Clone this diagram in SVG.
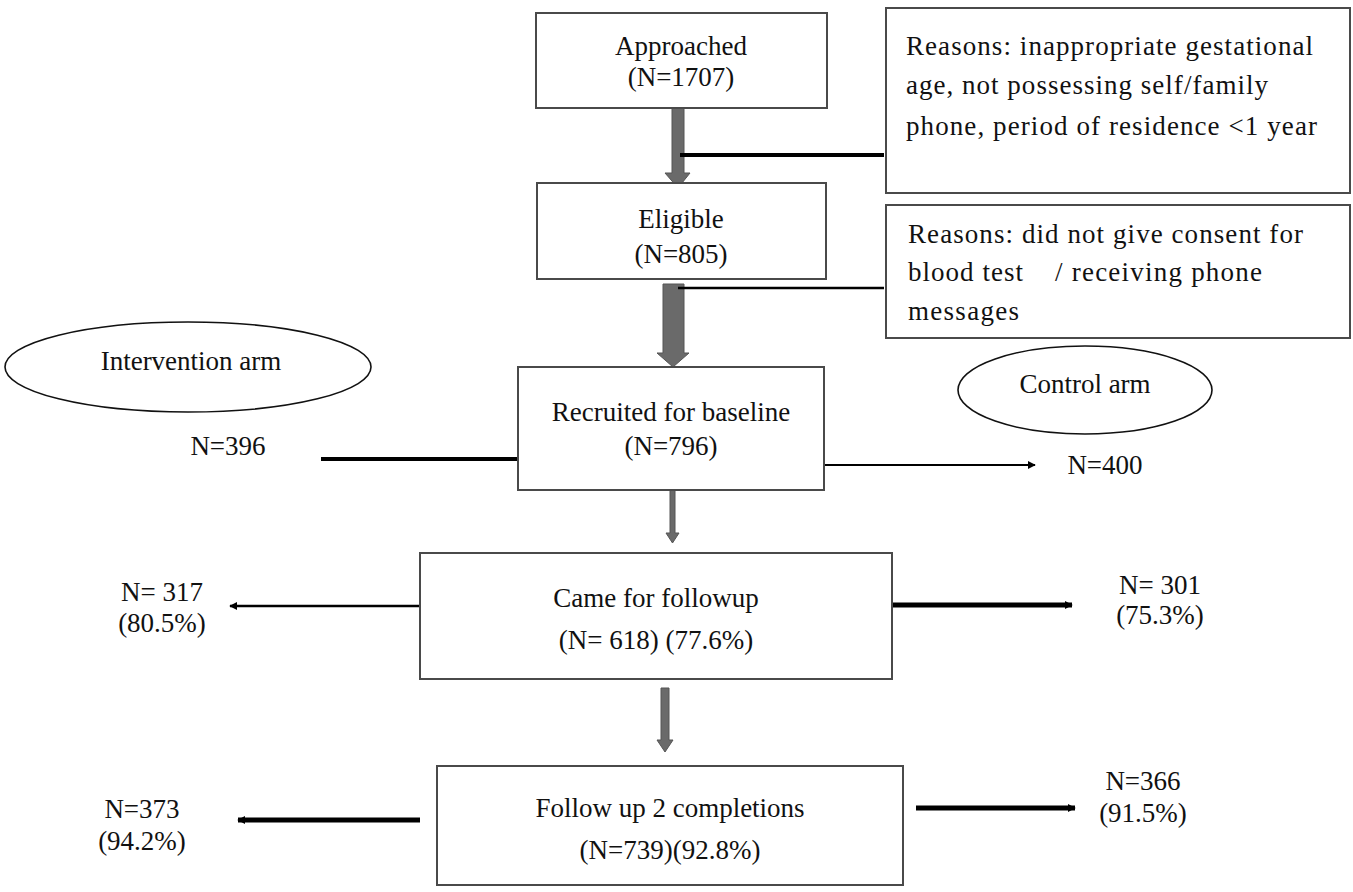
<svg xmlns="http://www.w3.org/2000/svg" width="1353" height="892" viewBox="0 0 1353 892">
<defs>
<style>
.box{fill:#fff;stroke:#4a4a4a;stroke-width:2}
.ell{fill:#fff;stroke:#111;stroke-width:1.6}
.t{font-family:"Liberation Serif","Times New Roman",serif;font-size:27px;fill:#111}
.tm{text-anchor:middle}
.ln{stroke:#000;fill:none}
.ga{fill:#6a6a6a;stroke:#555;stroke-width:1}
</style>
<marker id="ah" viewBox="0 0 10 10" refX="9" refY="5" markerWidth="8" markerHeight="8" markerUnits="userSpaceOnUse" orient="auto">
<path d="M0,0 L10,5 L0,10 z" fill="#000"/>
</marker>
</defs>
<rect width="1353" height="892" fill="#fff"/>

<g id="connectors">
<path class="ga" d="M672,108 H684 V173 H690 L678,188 L665,173 H672 Z"/>
<path class="ga" d="M663,284 H684 V353 H689 L673,367 L657,353 H663 Z"/>
<path class="ga" d="M670,490 H675 V533 H679 L672.5,543 L666,533 H670 Z"/>
<path class="ga" d="M661,688 H669 V740 H673 L665,752 L657,740 H661 Z"/>
<line class="ln" x1="680" y1="155" x2="884" y2="155" stroke-width="4"/>
<line class="ln" x1="678" y1="288" x2="884" y2="288" stroke-width="2.5"/>
<line class="ln" x1="519" y1="459" x2="321" y2="459" stroke-width="4"/>
<line class="ln" x1="824" y1="465" x2="1035" y2="465" stroke-width="2" marker-end="url(#ah)"/>
<line class="ln" x1="430" y1="606" x2="230" y2="606" stroke-width="2.5" marker-end="url(#ah)"/>
<line class="ln" x1="892" y1="605" x2="1072" y2="605" stroke-width="5" marker-end="url(#ah)"/>
<line class="ln" x1="420" y1="820" x2="238" y2="820" stroke-width="5" marker-end="url(#ah)"/>
<line class="ln" x1="916" y1="808" x2="1075" y2="808" stroke-width="5" marker-end="url(#ah)"/>
</g>

<g id="approached">
<rect class="box" x="536" y="13" width="291" height="95"/>
<text class="t tm" x="681" y="55">Approached</text>
<text class="t tm" x="681" y="86">(N=1707)</text>
</g>

<g id="reasons1">
<rect class="box" x="886" y="8" width="464" height="185"/>
<text class="t" x="906" y="55" textLength="407">Reasons: inappropriate gestational</text>
<text class="t" x="906" y="94" textLength="362">age, not possessing self/family</text>
<text class="t" x="906" y="135" textLength="411">phone, period of residence &lt;1 year</text>
</g>

<g id="eligible">
<rect class="box" x="537" y="183" width="289" height="96"/>
<text class="t tm" x="681" y="228">Eligible</text>
<text class="t tm" x="681" y="263">(N=805)</text>
</g>

<g id="reasons2">
<rect class="box" x="886" y="205" width="464" height="133"/>
<text class="t" x="908" y="243" textLength="395">Reasons: did not give consent for</text>
<text class="t" x="908" y="281" textLength="115">blood test</text>
<text class="t" x="1055" y="281" textLength="207">/ receiving phone</text>
<text class="t" x="908" y="320" textLength="111">messages</text>
</g>

<g id="intervention-arm">
<ellipse class="ell" cx="188" cy="367" rx="183" ry="45"/>
<text class="t tm" x="191" y="370">Intervention arm</text>
</g>

<g id="control-arm">
<ellipse class="ell" cx="1085" cy="390" rx="127" ry="44"/>
<text class="t tm" x="1085" y="393">Control arm</text>
</g>

<g id="recruited">
<rect class="box" x="518" y="367" width="306" height="123"/>
<text class="t tm" x="671" y="421">Recruited for baseline</text>
<text class="t tm" x="671" y="455">(N=796)</text>
</g>

<g id="n396"><text class="t tm" x="228" y="455">N=396</text></g>
<g id="n400"><text class="t tm" x="1105" y="474">N=400</text></g>

<g id="came">
<rect class="box" x="420" y="553" width="472" height="126"/>
<text class="t tm" x="656" y="607">Came for followup</text>
<text class="t tm" x="656" y="649">(N= 618) (77.6%)</text>
</g>

<g id="n317">
<text class="t tm" x="162" y="601">N= 317</text>
<text class="t tm" x="162" y="632">(80.5%)</text>
</g>

<g id="n301">
<text class="t tm" x="1160" y="594">N= 301</text>
<text class="t tm" x="1160" y="624">(75.3%)</text>
</g>

<g id="followup2">
<rect class="box" x="437" y="766" width="466" height="119"/>
<text class="t tm" x="670" y="817">Follow up 2 completions</text>
<text class="t tm" x="670" y="859">(N=739)(92.8%)</text>
</g>

<g id="n373">
<text class="t tm" x="142" y="818">N=373</text>
<text class="t tm" x="142" y="850">(94.2%)</text>
</g>

<g id="n366">
<text class="t tm" x="1143" y="790">N=366</text>
<text class="t tm" x="1143" y="822">(91.5%)</text>
</g>
</svg>
